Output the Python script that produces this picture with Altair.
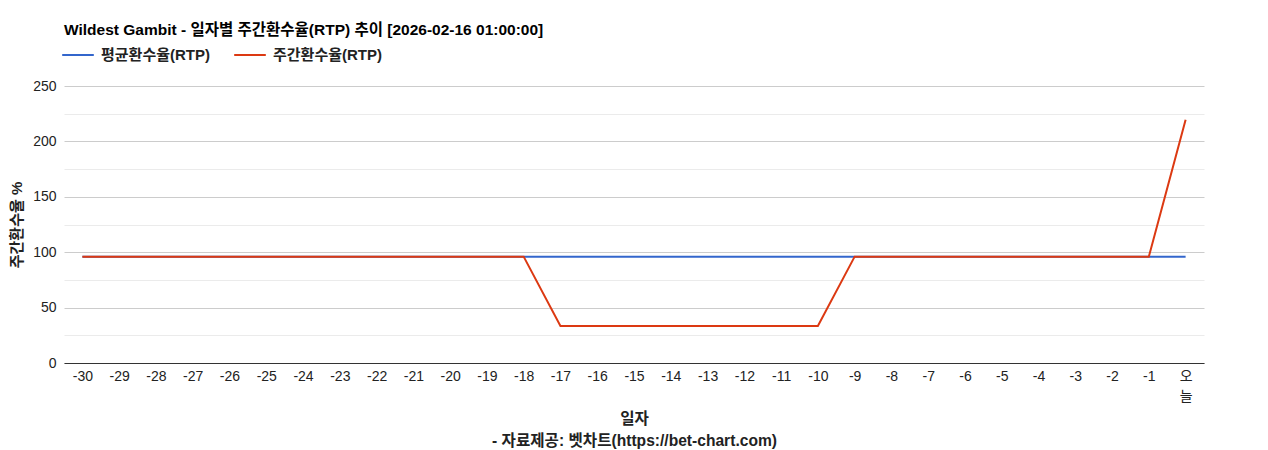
import altair as alt
import pandas as pd

days = [str(d) for d in range(-30, 0)] + ["오늘"]
avg_rtp = [96] * 31
week_rtp = [96] * 13 + [33.5] * 8 + [96] * 9 + [219.5]

series_avg = "평균환수율(RTP)"
series_week = "주간환수율(RTP)"

df = pd.concat([
    pd.DataFrame({"day": days, "rtp": avg_rtp, "series": series_avg, "ord": 0}),
    pd.DataFrame({"day": days, "rtp": week_rtp, "series": series_week, "ord": 1}),
])

FONT = "Liberation Sans, Noto Sans CJK KR"

chart = (
    alt.Chart(df)
    .mark_line(strokeWidth=2)
    .encode(
        x=alt.X(
            "day:O", sort=days, scale=alt.Scale(type="point", padding=0.5),
            axis=alt.Axis(
                title=["일자", "- 자료제공: 벳차트(https://bet-chart.com)"],
                titleFontWeight="bold", titleFontSize=15.6, titleColor="#222",
                titleLineHeight=22, titlePadding=8,
                labelAngle=0, labelFontSize=14, labelColor="#222", labelPadding=6,
                labelExpr="datum.label == '오늘' ? ['오', '늘'] : datum.label",
                labelLineHeight=20,
                ticks=False, grid=False, domainColor="#333",
            ),
        ),
        y=alt.Y(
            "rtp:Q", scale=alt.Scale(domain=[0, 250], nice=False),
            axis=alt.Axis(
                title="주간환수율 %", titleFontWeight="bold", titleFontSize=15,
                titleColor="#222", titlePadding=8,
                values=list(range(0, 251, 25)),
                labelExpr="datum.value % 50 == 0 ? datum.label : ''",
                labelFontSize=14, labelColor="#222", labelPadding=8,
                ticks=False, domain=False,
                gridColor={"expr": "datum.value % 50 == 0 ? '#cccccc' : '#ebebeb'"},
            ),
        ),
        color=alt.Color(
            "series:N", sort=[series_avg, series_week],
            scale=alt.Scale(domain=[series_avg, series_week], range=["#3366cc", "#dc3912"]),
            legend=alt.Legend(
                title=None, orient="none", legendX=-3, legendY=-48, direction="horizontal",
                symbolType="stroke", symbolSize=1000, symbolStrokeWidth=2,
                labelFontSize=15, labelFontWeight="bold", labelColor="#222",
                columnPadding=20, labelOffset=6,
            ),
        ),
        order="ord:Q",
    )
    .properties(
        width=1140, height=277,
        padding={"left": 56, "top": 78, "right": 56, "bottom": 95},
        autosize=alt.AutoSizeParams(type="none"),
        title=alt.TitleParams(
            text="Wildest Gambit - 일자별 주간환수율(RTP) 추이 [2026-02-16 01:00:00]",
            anchor="start", frame="group", fontSize=15.5, fontWeight="bold",
            color="#000", offset=0,
        ),
    )
    .configure(font=FONT)
    .configure_view(stroke=None)
)

chart.save("out.html", embed_options={"renderer": "svg", "actions": False})
